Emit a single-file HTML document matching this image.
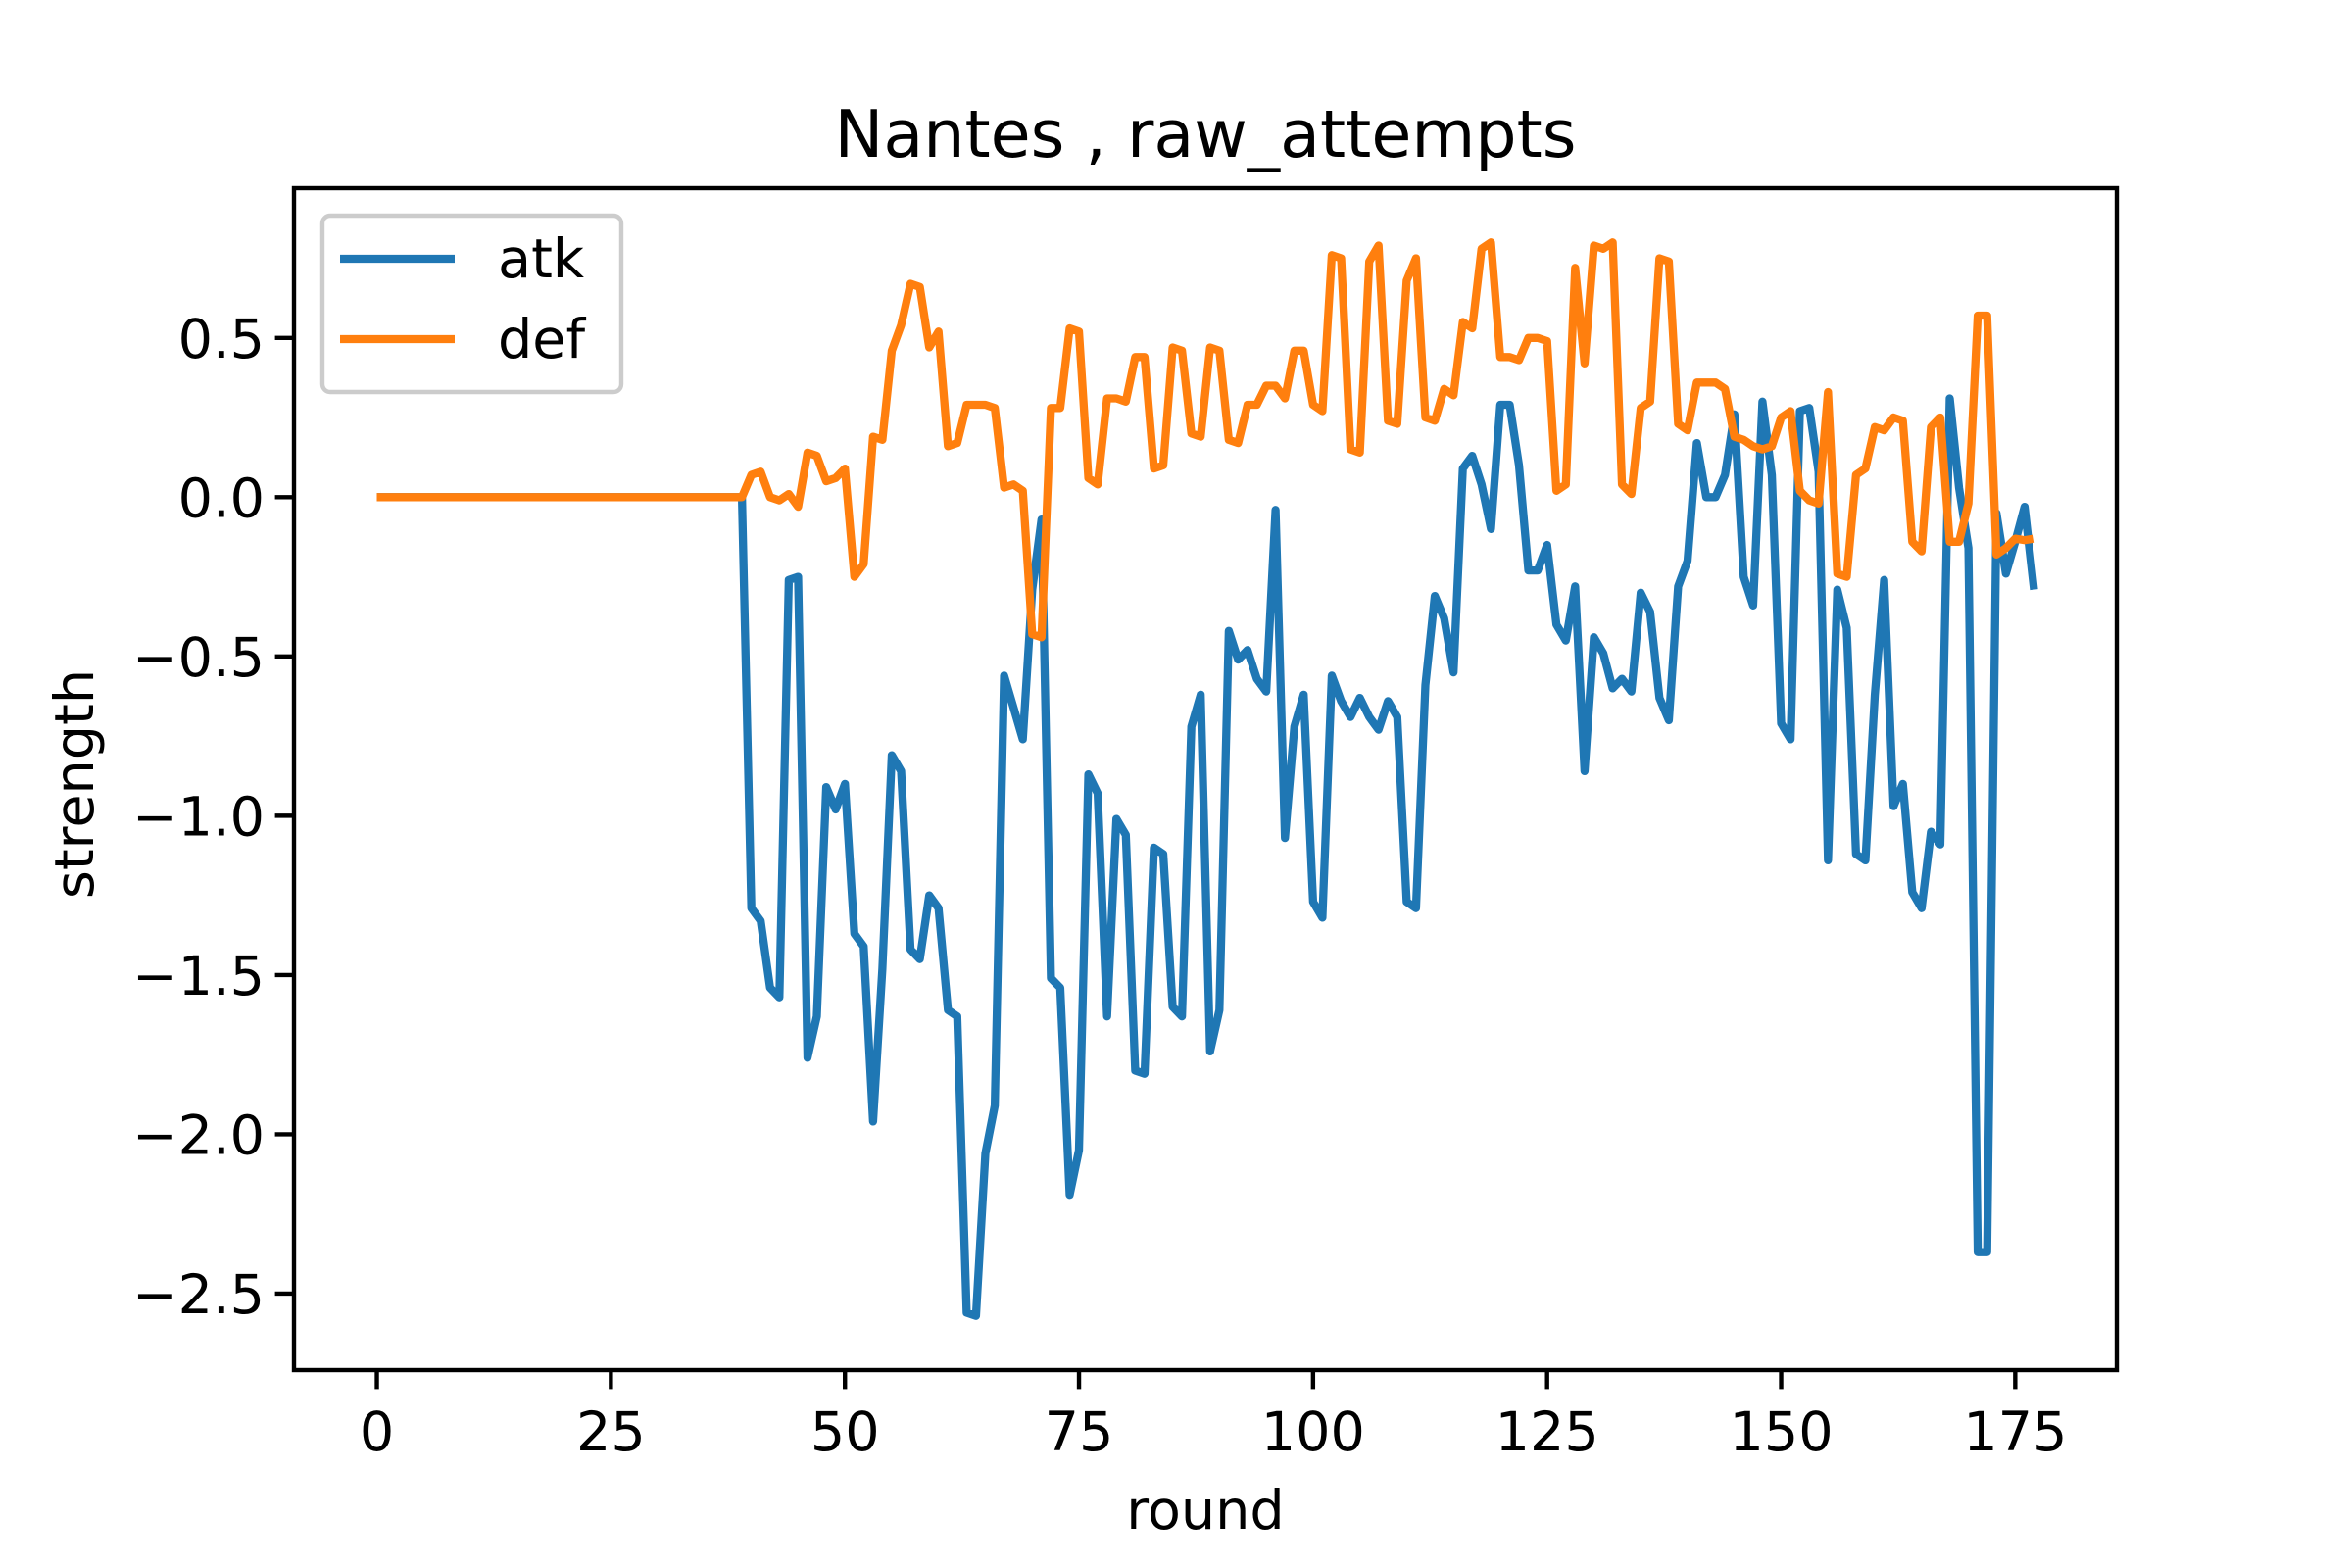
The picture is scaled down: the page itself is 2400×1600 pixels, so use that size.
<!DOCTYPE html>
<html><head><meta charset="utf-8"><style>
html,body{margin:0;padding:0;background:#fff;}
svg{display:block;font-family:"DejaVu Sans","Liberation Sans",sans-serif;}
</style></head><body>
<svg id="chart" width="2400" height="1600" viewBox="0 0 2400 1600" xmlns="http://www.w3.org/2000/svg">
<rect width="2400" height="1600" fill="#fff"/>
<text x="1230" y="160" font-size="66.7" text-anchor="middle">Nantes , raw_attempts</text>
<g id="xticks"></g>
<g id="yticks"></g>
<g id="series"></g>
<rect x="300" y="192" width="1860" height="1206" fill="none" stroke="#000" stroke-width="4.4"/>
<text x="1230" y="1560" font-size="55.6" text-anchor="middle">round</text>
<text x="0" y="0" font-size="55.6" text-anchor="middle" transform="translate(95,800) rotate(-90)">strength</text>
<g>
<rect x="329" y="220" width="305" height="180" rx="8" fill="#fff" fill-opacity="0.8" stroke="#ccc" stroke-width="4.4"/>
<line x1="347" y1="264" x2="464" y2="264" stroke="#1f77b4" stroke-width="8.3"/>
<text x="508" y="283" font-size="55.6">atk</text>
<line x1="347" y1="346" x2="464" y2="346" stroke="#ff7f0e" stroke-width="8.3"/>
<text x="508" y="365" font-size="55.6">def</text>
</g>
</svg>
<script>
const xTicks = [0,25,50,75,100,125,150,175];
const yTicks = [-2.5,-2.0,-1.5,-1.0,-0.5,0.0,0.5];
const yTickLabels = ["\u22122.5","\u22122.0","\u22121.5","\u22121.0","\u22120.5","0.0","0.5"];
const atkEarly = [0,0,0,0,0,0,0,0,0,0,0,0,0,0,0,0,0,0,0,0,0,0,0,0,0,0,0,0,0,0,0,0,0,0,0,0,0,0,0];
const atkValues = [0,-1.29,-1.33,-1.54,-1.57,-0.26,-0.25,-1.76,-1.63,-0.91,-0.98,-0.90,-1.37,-1.41,-1.96,-1.48,-0.81,-0.86,-1.42,-1.45,-1.25,-1.29,-1.61,-1.63,-2.56,-2.57,-2.06,-1.91,-0.56,-0.66,-0.76,-0.29,-0.07,-1.51,-1.54,-2.19,-2.05,-0.87,-0.93,
-1.63,-1.01,-1.06,-1.80,-1.81,-1.10,-1.12,-1.60,-1.63,-0.72,-0.62,-1.74,-1.61,-0.42,-0.51,-0.48,-0.57,-0.61,-0.04,-1.07,-0.72,-0.62,-1.27,-1.32,-0.56,-0.64,-0.69,-0.63,-0.69,-0.73,-0.64,-0.69,-1.27,-1.29,-0.59,
-0.31,-0.38,-0.55,0.09,0.13,0.04,-0.10,0.29,0.29,0.10,-0.23,-0.23,-0.15,-0.40,-0.45,-0.28,-0.86,-0.44,-0.49,-0.60,-0.57,-0.61,-0.30,-0.36,-0.63,-0.70,-0.28,-0.20,0.17,0.0,0.0,0.07,0.26,-0.25,-0.34,0.30,0.07,-0.71,-0.76,0.27,
0.28,0.08,-1.14,-0.29,-0.41,-1.12,-1.14,-0.62,-0.26,-0.97,-0.90,-1.24,-1.29,-1.05,-1.09,0.31,0.03,-0.16,-2.37,-2.37,-0.05,-0.24,-0.14,-0.03,-0.29];
const defEarly = [0,0,0,0,0,0,0,0,0,0,0,0,0,0,0,0,0,0,0,0,0,0,0,0,0,0,0,0,0,0,0,0,0,0,0,0,0,0,0];
const defValues = [0,0.07,0.08,0.0,-0.01,0.01,-0.03,0.14,0.13,0.05,0.06,0.09,-0.25,-0.21,0.19,0.18,0.46,0.54,0.67,0.66,0.47,0.52,0.16,0.17,0.29,0.29,0.29,0.28,0.03,0.04,0.02,-0.43,-0.44,0.28,0.28,0.53,0.52,0.06,0.04,
0.31,0.31,0.30,0.44,0.44,0.09,0.10,0.47,0.46,0.20,0.19,0.47,0.46,0.18,0.17,0.29,0.29,0.35,0.35,0.31,0.46,0.46,0.29,0.27,0.76,0.75,0.15,0.14,0.74,0.79,0.24,0.23,0.68,0.75,0.25,
0.24,0.34,0.32,0.55,0.53,0.78,0.80,0.44,0.44,0.43,0.50,0.50,0.49,0.02,0.04,0.72,0.42,0.79,0.78,0.80,0.04,0.01,0.28,0.30,0.75,0.74,0.23,0.21,0.36,0.36,0.36,0.34,0.19,0.18,0.16,0.15,0.16,0.25,0.27,0.02,
-0.01,-0.02,0.33,-0.24,-0.25,0.07,0.09,0.22,0.21,0.25,0.24,-0.14,-0.17,0.22,0.25,-0.14,-0.14,-0.02,0.57,0.57,-0.18,-0.16,-0.13,-0.135,-0.13];

const NS = "http://www.w3.org/2000/svg";
const X0 = 300, X1 = 2160, Y0 = 192, Y1 = 1398;
const XMIN = -8.85, XMAX = 185.85, YMIN = -2.74, YMAX = 0.97;
function xs(v){ return X0 + (v - XMIN) / (XMAX - XMIN) * (X1 - X0); }
function ys(v){ return Y1 - (v - YMIN) / (YMAX - YMIN) * (Y1 - Y0); }

const xg = document.getElementById('xticks');
xTicks.forEach(t => {
  const l = document.createElementNS(NS,'line');
  l.setAttribute('x1', xs(t)); l.setAttribute('x2', xs(t));
  l.setAttribute('y1', Y1); l.setAttribute('y2', Y1 + 19.4);
  l.setAttribute('stroke','#000'); l.setAttribute('stroke-width','4.4');
  
  
  xg.appendChild(l);
  const tx = document.createElementNS(NS,'text');
  tx.setAttribute('x', xs(t)); tx.setAttribute('y', Y1 + 82);
  tx.setAttribute('font-size','55.6'); tx.setAttribute('text-anchor','middle');
  tx.textContent = String(t);
  
  
  xg.appendChild(tx);
});
const yg = document.getElementById('yticks');
yTicks.forEach((t,i) => {
  const l = document.createElementNS(NS,'line');
  l.setAttribute('x1', X0 - 19.4); l.setAttribute('x2', X0);
  l.setAttribute('y1', ys(t)); l.setAttribute('y2', ys(t));
  l.setAttribute('stroke','#000'); l.setAttribute('stroke-width','4.4');
  
  
  yg.appendChild(l);
  const tx = document.createElementNS(NS,'text');
  tx.setAttribute('x', X0 - 30); tx.setAttribute('y', ys(t) + 20);
  tx.setAttribute('font-size','55.6'); tx.setAttribute('text-anchor','end');
  tx.textContent = yTickLabels[i];
  
  
  yg.appendChild(tx);
});
function drawSeries(vals, color, name){
  const d = vals.map((v,i) => (i ? 'L' : 'M') + xs(i).toFixed(1) + ',' + ys(v).toFixed(1)).join(' ');
  const p = document.createElementNS(NS,'path');
  p.setAttribute('d', d); p.setAttribute('fill','none');
  p.setAttribute('stroke', color); p.setAttribute('stroke-width','8.3');
  p.setAttribute('stroke-linejoin','round'); p.setAttribute('stroke-linecap','butt');
  
  
  document.getElementById('series').appendChild(p);
}
drawSeries(atkEarly.concat(atkValues), '#1f77b4', 'atk-line');
drawSeries(defEarly.concat(defValues), '#ff7f0e', 'def-line');
</script>
</body></html>
